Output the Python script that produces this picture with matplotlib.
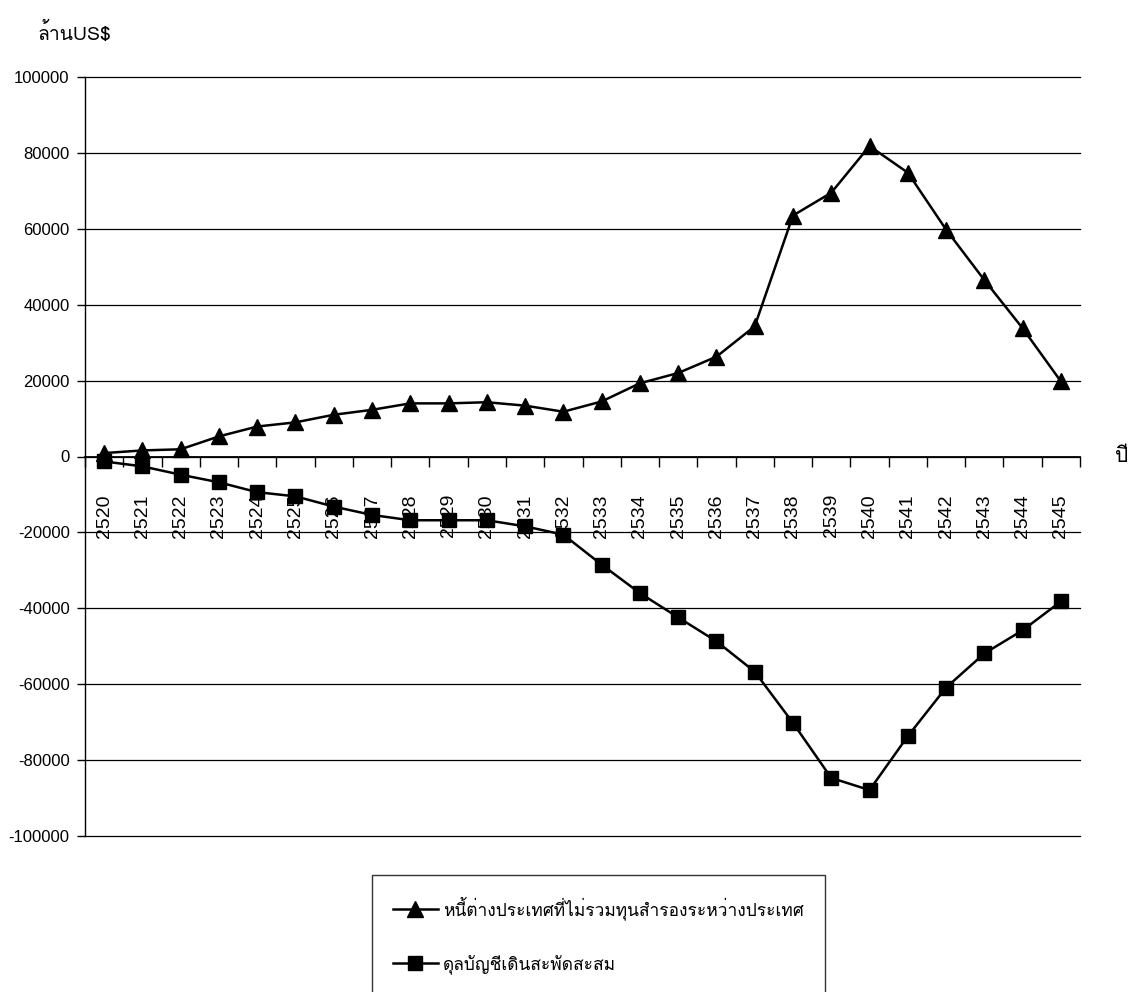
import matplotlib
matplotlib.use('Agg')
import matplotlib.pyplot as plt
from matplotlib import font_manager
from matplotlib.ft2font import FT2Font
from matplotlib.ticker import FixedLocator

# data (million US$)
years = ['2520', '2521', '2522', '2523', '2524', '2525', '2526', '2527', '2528',
         '2529', '2530', '2531', '2532', '2533', '2534', '2535', '2536', '2537',
         '2538', '2539', '2540', '2541', '2542', '2543', '2544', '2545']
debt = [900, 1600, 1900, 5300, 7900, 9000, 11000, 12300, 14000, 14000, 14300,
        13400, 11800, 14500, 19300, 22000, 26300, 34300, 63500, 69500, 81800,
        74800, 59800, 46500, 33800, 19800]
current_acc = [-1300, -2600, -4800, -6800, -9400, -10500, -13200, -15400, -16800,
               -16800, -16800, -18400, -20600, -28500, -36000, -42400, -48700,
               -56700, -70200, -84700, -87900, -73700, -60900, -51900, -45800,
               -38200]
label_debt = 'หนี้ต่างประเทศที่ไม่รวมทุนสำรองระหว่างประเทศ'
label_ca = 'ดุลบัญชีเดินสะพัดสะสม'
yticks = [-100000, -80000, -60000, -40000, -20000, 0, 20000, 40000, 60000, 80000, 100000]


# find something that can draw Thai
thai_font = None
for f in font_manager.fontManager.ttflist:
    try:
        if 0x0E01 in FT2Font(f.fname).get_charmap():
            thai_font = f.name
            break
    except Exception:
        pass
thai_fam = [thai_font, 'DejaVu Sans'] if thai_font else ['DejaVu Sans']
plt.rcParams['font.family'] = thai_fam + ['Liberation Sans']

fig = plt.figure(figsize=(11.35, 9.92), dpi=100)
ax = fig.add_axes([85/1135, 1-836/992, 995/1135, 759/992])

x = list(range(len(years)))
ax.plot(x, debt, color='black', lw=1.8, marker='^', ms=11, label=label_debt, zorder=3)
ax.plot(x, current_acc, color='black', lw=1.8, marker='s', ms=10.5, label=label_ca, zorder=3)

ax.set_xlim(-0.5, len(years) - 0.5)
ax.set_ylim(-100000, 100000)
ax.set_yticks(yticks)
ax.set_yticklabels([str(v) for v in yticks], family='Liberation Sans', fontsize=12)
ax.grid(axis='y', color='black', lw=0.9)
for gl in ax.get_ygridlines():
    gl.set_clip_on(False)
ax.set_axisbelow(True)

for s in ['top', 'right']:
    ax.spines[s].set_visible(False)
ax.spines['bottom'].set_position(('data', 0))
ax.spines['bottom'].set_linewidth(1.3)
ax.spines['left'].set_linewidth(1.0)

ax.set_xticks(x)
ax.set_xticklabels(years, rotation=90, family='Liberation Sans', fontsize=14)
ax.xaxis.set_minor_locator(FixedLocator([i - 0.5 for i in range(len(years) + 1)]))
ax.tick_params(axis='x', which='major', length=0, pad=27)
ax.tick_params(axis='x', which='minor', length=7, width=1.0, direction='out')
ax.tick_params(axis='y', length=6, width=1.0, pad=5)

fig.text(37/1135, 1-33/992, 'ล้านUS$', fontsize=14, va='center', ha='left', family=thai_fam)
fig.text(1115/1135, 1-457/992, 'ปี', fontsize=15, va='center', ha='left', family=thai_fam)

leg = fig.legend(loc='upper left', bbox_to_anchor=(372/1135, 1-875/992), borderaxespad=0,
                 frameon=True, fancybox=False, edgecolor='black', handlelength=2.6,
                 handletextpad=0.3, labelspacing=2.0, borderpad=1.2,
                 prop={'family': thai_fam, 'size': 12.5})
leg.get_frame().set_linewidth(1.0)

fig.savefig('out.png', dpi=100)
